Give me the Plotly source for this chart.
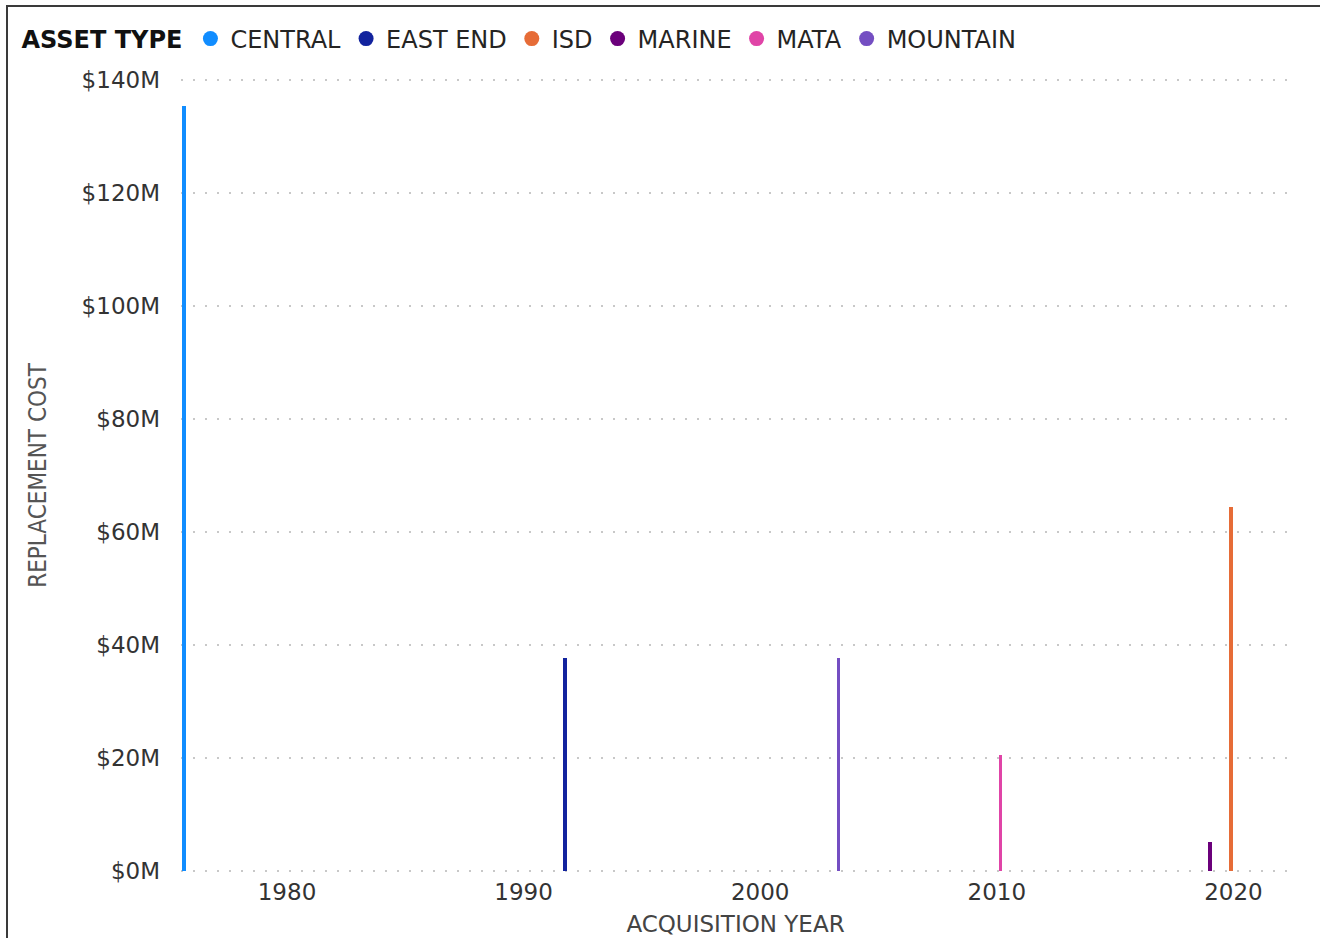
import plotly.graph_objects as go

# ---- data ----
asset_types = ["CENTRAL", "EAST END", "ISD", "MARINE", "MATA", "MOUNTAIN"]
acq_years = [1975.65, 1991.75, 2019.9, 2019.02, 2010.15, 2003.3]
replacement_cost_m = [135.5, 37.6, 64.5, 5.1, 20.5, 37.6]
colors = ["#118DFF", "#12239E", "#E66C37", "#6B007B", "#E044A7", "#744EC2"]
y_ticks = [0, 20, 40, 60, 80, 100, 120, 140]
y_tick_labels = ["$" + str(v) + "M" for v in y_ticks]
x_ticks = [1980, 1990, 2000, 2010, 2020]

W, H = 1320, 938
L, R, T, B = 181, 30, 78, 65
plot_w = W - L - R
plot_h = H - T - B

fig = go.Figure()

for name, yr, val, col in zip(asset_types, acq_years, replacement_cost_m, colors):
    fig.add_trace(go.Bar(
        x=[yr], y=[val], width=0.15, marker=dict(color=col, line=dict(width=0)),
        name=name, showlegend=False, legendgroup=name,
        hovertemplate=name + "<br>%{x:.0f}: $%{y:.1f}M<extra></extra>",
    ))
# legend entries with round markers
for name, col in zip(asset_types, colors):
    fig.add_trace(go.Scatter(
        x=[None], y=[None], mode="markers", name=name, legendgroup=name,
        marker=dict(color=col, size=15, symbol="circle"), showlegend=True,
    ))

tick_font = dict(family="DejaVu Sans", size=23, color="#333333")

fig.update_layout(
    width=W, height=H,
    margin=dict(l=L, r=R, t=T, b=B, pad=0, autoexpand=False),
    paper_bgcolor="white", plot_bgcolor="white",
    bargap=0,
    showlegend=True,
    legend=dict(
        orientation="h", xref="paper", yref="paper",
        x=(19.5 - L) / plot_w, y=(H - B - 39) / plot_h, xanchor="left", yanchor="middle",
        title=dict(text="ASSET TYPE", side="left",
                   font=dict(family="DejaVu Sans", size=24, color="#111111", weight="bold")),
        font=dict(family="DejaVu Sans", size=24, color="#252423"),
        itemwidth=30, tracegroupgap=0, bgcolor="rgba(0,0,0,0)",
    ),
    xaxis=dict(
        range=[1975.52, 2022.39], tickvals=x_ticks, ticktext=[str(v) for v in x_ticks],
        showgrid=False, zeroline=False, showline=False, ticks="", automargin=False,
        tickfont=tick_font, ticklabelstandoff=3,
        title=dict(text="ACQUISITION YEAR", standoff=11,
                   font=dict(family="DejaVu Sans", size=23, color="#444444")),
    ),
    yaxis=dict(
        range=[-0.4, 140.4], tickvals=y_ticks, ticktext=y_tick_labels,
        showgrid=True, gridcolor="#C8C8C8", gridwidth=1.5, griddash="2px,10px",
        zeroline=False, showline=False, ticks="", automargin=False,
        tickfont=tick_font, ticklabelstandoff=20,
        title=dict(text="REPLACEMENT COST", standoff=28,
                   font=dict(family="Liberation Sans Narrow, DejaVu Sans Condensed, Liberation Sans",
                             size=24, color="#555555")),
    ),
    shapes=[dict(
        type="rect", xref="paper", yref="paper", layer="above",
        x0=(7 - L) / plot_w, x1=(W + 20 - L) / plot_w,
        y0=-(B + 20) / plot_h, y1=(H - B - 6) / plot_h,
        line=dict(color="#3a3a3a", width=2), fillcolor="rgba(0,0,0,0)",
    )],
)

fig.write_html("out.html", config={"displayModeBar": False},
               post_script="document.body.style.margin='0';document.body.style.overflow='hidden';")
